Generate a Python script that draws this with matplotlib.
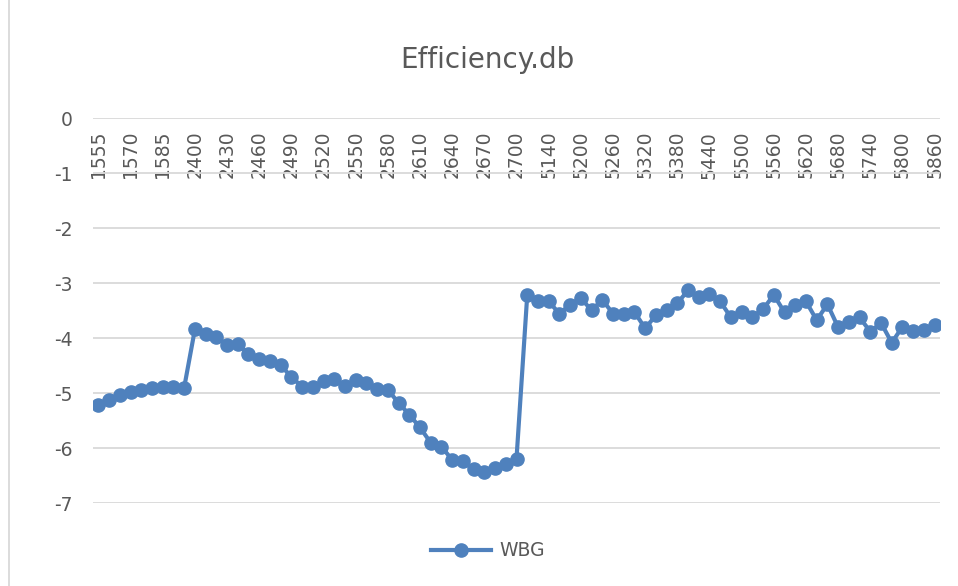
import matplotlib
matplotlib.use("Agg")
import matplotlib.pyplot as plt
from matplotlib.lines import Line2D

# Categories (frequencies) – labels shown every third category
freq_15g = [1555, 1560, 1565, 1570, 1575, 1580, 1585, 1590, 1595]
freq_24g = list(range(2400, 2701, 10))
freq_5g = list(range(5100, 5861, 20))
categories = [str(f) for f in freq_15g + freq_24g + freq_5g]

wbg = [
    -5.22, -5.13, -5.04, -4.98, -4.94, -4.90, -4.89, -4.89, -4.90,
    -3.84, -3.92, -3.97, -4.12, -4.10, -4.28, -4.38, -4.42, -4.49, -4.70,
    -4.88, -4.89, -4.77, -4.74, -4.86, -4.76, -4.82, -4.92, -4.94, -5.17,
    -5.39, -5.62, -5.90, -5.97, -6.21, -6.24, -6.38, -6.43, -6.36, -6.29,
    -6.19,
    -3.22, -3.33, -3.33, -3.55, -3.39, -3.27, -3.49, -3.30, -3.55, -3.55,
    -3.52, -3.82, -3.58, -3.49, -3.36, -3.13, -3.24, -3.19, -3.33, -3.62,
    -3.52, -3.61, -3.47, -3.21, -3.53, -3.39, -3.33, -3.67, -3.38, -3.80,
    -3.70, -3.62, -3.88, -3.72, -4.08, -3.79, -3.87, -3.85, -3.76,
]
y_ticks = [0, -1, -2, -3, -4, -5, -6, -7]

W, H = 958, 586
fig = plt.figure(figsize=(W / 100, H / 100), dpi=100)
ax = fig.add_axes([93 / W, 1 - 503.3 / H, (940 - 93) / W, (503.3 - 118.3) / H])

blue = "#4F81BD"
grey_text = "#595959"
grid_c = "#D9D9D9"

x = list(range(len(categories)))
ax.plot(x, wbg, color=blue, lw=3.0, marker="o", markersize=9.5,
        markeredgecolor=blue, markerfacecolor=blue, solid_joinstyle="round",
        zorder=3, label="WBG")

ax.set_xlim(-0.5, len(categories) - 0.5)
ax.set_ylim(-7, 0)
ax.set_yticks(y_ticks)
ax.set_yticklabels([str(v) for v in y_ticks])
ax.yaxis.grid(True, color=grid_c, lw=1.3)
ax.set_axisbelow(True)
for s in ax.spines.values():
    s.set_visible(False)

tick_idx = list(range(0, len(categories), 3))
ax.set_xticks(tick_idx)
ax.set_xticklabels([categories[i] for i in tick_idx])
ax.tick_params(axis="x", bottom=False, top=False, labelbottom=False,
               labeltop=True, pad=-12.5, labelsize=13.5, labelcolor=grey_text,
               labelrotation=90)
for t in ax.xaxis.get_major_ticks():
    t.label2.set_va("top")
    t.label2.set_ha("center")
ax.tick_params(axis="y", left=False, pad=11, labelsize=13.5, labelcolor=grey_text)

fig.text(487 / W, 1 - 60 / H, "Efficiency.db", ha="center", va="center",
         fontsize=20, color=grey_text)

handle = Line2D([], [], color=blue, lw=3.0, marker="o", markersize=9.5)
fig.legend([handle], ["WBG"], loc="center", bbox_to_anchor=(488 / W, 1 - 551 / H),
           frameon=False, fontsize=13.5, labelcolor=grey_text, handlelength=3.2,
           handletextpad=0.4)

fig.add_artist(Line2D([8.5 / W, 8.5 / W], [0, 1], transform=fig.transFigure,
                      color=grid_c, lw=1.3))

fig.savefig("out.png", dpi=100, facecolor="white")
